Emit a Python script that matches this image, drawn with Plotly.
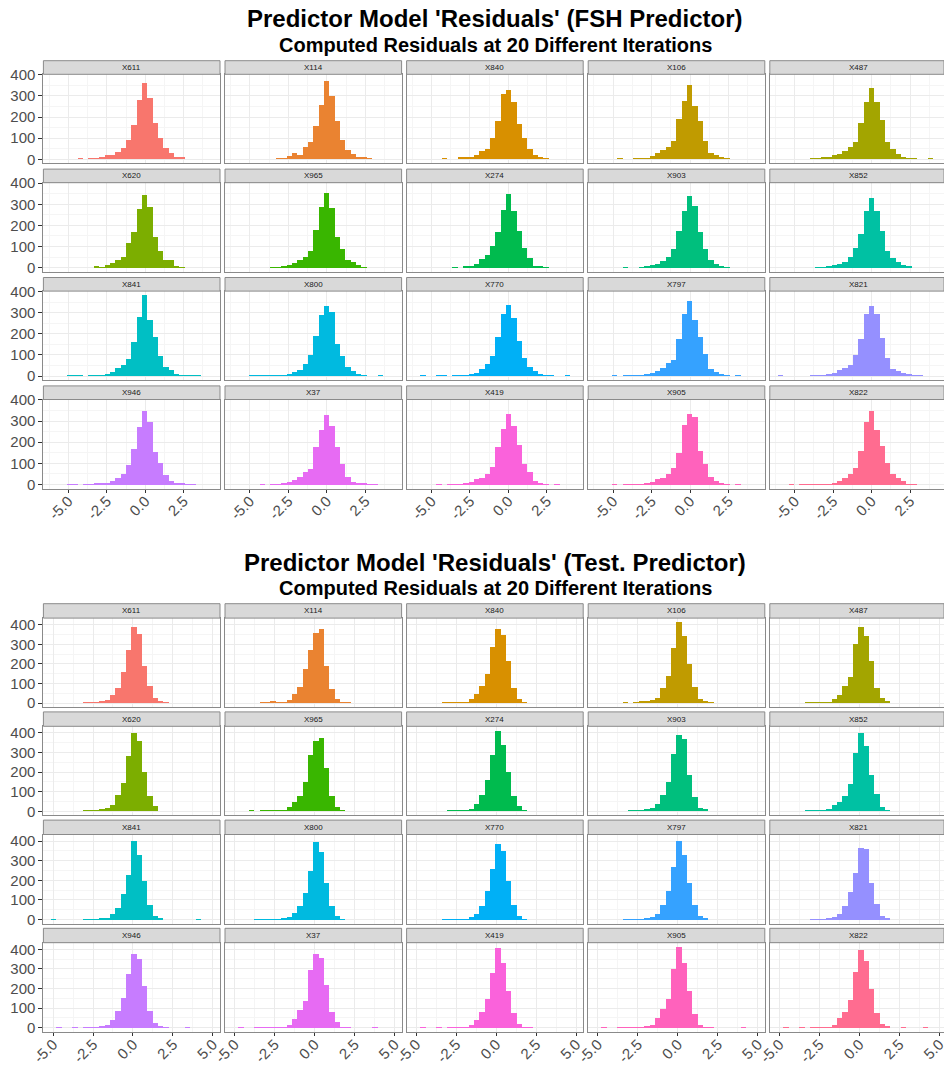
import plotly.graph_objects as go

W, H = 944, 1066
FONT = "Liberation Sans, Arial, Helvetica, sans-serif"

facets = ["X611", "X114", "X840", "X106", "X487",
          "X620", "X965", "X274", "X903", "X852",
          "X841", "X800", "X770", "X797", "X821",
          "X946", "X37", "X419", "X905", "X822"]

colours = ["#F8766D", "#EA8331", "#D89000", "#C09B00", "#A3A500",
           "#7CAE00", "#39B600", "#00BB4E", "#00BF7D", "#00C1A3",
           "#00BFC4", "#00BAE0", "#00B0F6", "#35A2FF", "#9590FF",
           "#C77CFF", "#E76BF3", "#FA62DB", "#FF62BC", "#FF6C90"]

# ---- FSH predictor: residual histogram counts, 30 bins per iteration ----
fsh_bin_first = -5.926
fsh_bin_width = 0.348

fsh_x611 = [0,0,0,0,0,2,0,1,3,6,19,20,33,50,88,160,278,359,287,169,99,50,28,11,5,0,0,0,0,0]
fsh_x114 = [0,0,0,0,0,0,0,0,3,4,16,27,20,56,78,157,257,370,298,180,88,44,24,9,6,3,0,0,0,0]
fsh_x840 = [0,0,0,0,0,2,0,0,5,9,11,20,38,47,99,179,307,325,270,165,100,45,20,11,3,0,0,0,0,0]
fsh_x106 = [0,0,0,0,2,0,0,2,3,4,13,27,41,58,85,191,276,348,251,179,85,30,19,9,3,0,0,0,0,0]
fsh_x487 = [0,0,0,0,0,0,2,3,5,9,19,25,39,58,78,171,270,336,270,184,82,47,24,9,2,1,0,0,1,0]
fsh_x620 = [0,0,0,0,0,0,0,0,8,3,13,25,38,52,116,170,279,347,287,146,82,39,38,6,2,0,0,0,0,0]
fsh_x965 = [0,0,0,0,0,0,0,2,2,6,14,22,38,52,82,180,287,353,284,146,88,39,27,14,2,0,0,0,0,0]
fsh_x274 = [0,0,0,0,0,0,0,2,0,5,9,20,42,61,104,169,273,351,268,177,94,45,11,8,2,0,0,0,0,0]
fsh_x903 = [0,0,0,0,0,2,0,0,3,9,13,20,31,52,91,174,271,342,292,169,91,38,19,11,2,0,0,0,0,0]
fsh_x852 = [0,0,0,0,0,0,0,2,3,8,13,19,28,52,96,162,271,331,271,177,80,45,28,13,6,0,0,0,0,0]
fsh_x841 = [0,0,0,2,3,2,0,2,4,3,8,17,38,50,82,163,278,383,267,185,93,41,28,9,3,2,2,1,0,0]
fsh_x800 = [0,0,0,1,2,2,1,3,2,4,10,19,28,55,97,187,287,333,301,149,96,44,25,9,3,0,0,1,0,0]
fsh_x770 = [0,1,0,0,1,1,0,3,4,3,10,16,31,58,93,185,293,337,273,166,86,44,24,6,4,3,0,0,1,0]
fsh_x797 = [0,0,0,1,0,1,2,2,3,5,16,25,36,60,74,173,295,356,264,185,104,31,19,9,4,0,1,0,0,0]
fsh_x821 = [1,0,0,0,0,0,2,3,4,5,13,27,38,52,99,173,295,330,293,180,86,31,22,14,5,2,1,0,0,0]
fsh_x946 = [0,0,0,1,1,0,1,2,5,6,9,21,32,51,95,170,272,351,296,155,104,48,21,10,7,2,1,0,0,0]
fsh_x37 = [0,0,0,0,0,2,0,3,3,8,15,25,40,63,75,180,260,330,280,180,100,38,14,8,8,2,1,0,0,0]
fsh_x419 = [0,0,0,0,1,0,1,3,3,5,16,27,32,52,87,178,264,335,280,190,101,60,21,10,3,0,1,0,0,0]
fsh_x905 = [0,0,0,1,0,1,2,2,4,5,12,27,32,51,81,150,286,338,322,161,98,37,21,9,4,0,1,0,0,0]
fsh_x822 = [0,0,1,0,1,1,1,2,2,3,9,21,35,51,79,163,299,349,260,184,106,51,35,17,4,2,0,0,0,0]

fsh_counts = [fsh_x611, fsh_x114, fsh_x840, fsh_x106, fsh_x487,
              fsh_x620, fsh_x965, fsh_x274, fsh_x903, fsh_x852,
              fsh_x841, fsh_x800, fsh_x770, fsh_x797, fsh_x821,
              fsh_x946, fsh_x37, fsh_x419, fsh_x905, fsh_x822]

# ---- Test. predictor: residual histogram counts, 30 bins per iteration ----
test_bin_first = -4.931
test_bin_width = 0.3345

test_x611 = [0,0,0,0,0,0,3,3,3,7,15,42,76,156,270,388,353,190,89,25,10,3,0,0,0,0,0,0,0,0]
test_x114 = [0,0,0,0,0,1,2,10,3,3,13,47,84,173,269,358,378,190,72,20,4,2,0,0,0,0,0,0,0,0]
test_x840 = [0,0,0,0,0,2,3,2,2,4,18,44,89,148,285,378,346,215,77,20,3,0,0,0,0,0,0,0,0,0]
test_x106 = [0,0,0,0,0,2,0,3,5,5,17,27,77,139,279,413,341,198,81,20,10,3,0,0,0,0,0,0,0,0]
test_x487 = [0,0,0,0,0,2,2,3,3,4,22,39,89,134,299,388,341,212,76,27,5,0,0,0,0,0,0,0,0,0]
test_x620 = [0,0,0,0,0,0,4,2,3,8,15,30,84,144,282,396,359,198,77,25,0,0,0,0,0,0,0,0,0,0]
test_x965 = [0,0,0,2,0,2,2,2,2,3,20,47,76,148,285,358,371,218,76,20,2,0,0,0,0,0,0,0,0,0]
test_x274 = [0,0,0,0,0,0,2,2,3,4,10,34,79,156,285,406,338,198,76,25,3,0,0,0,0,0,0,0,0,0]
test_x903 = [0,0,0,0,0,0,2,2,2,5,13,34,81,146,291,386,366,185,72,17,5,0,0,0,0,0,0,0,0,0]
test_x852 = [0,0,0,0,0,2,2,3,3,5,30,45,77,139,296,396,332,185,86,20,4,0,0,0,0,0,0,0,0,0]
test_x841 = [1,0,0,0,0,0,2,3,4,5,12,30,60,130,230,402,330,200,75,20,5,0,0,0,0,0,0,1,0,0]
test_x800 = [0,0,0,0,1,2,2,3,3,5,15,35,70,140,250,398,345,190,70,20,3,0,0,0,0,0,0,0,0,0]
test_x770 = [0,0,0,0,0,1,2,2,3,4,13,30,72,150,260,390,350,200,75,20,4,0,0,0,0,0,0,0,0,0]
test_x797 = [0,0,0,0,0,1,2,2,3,5,15,32,75,150,270,405,330,190,75,20,5,0,0,0,0,0,0,0,0,0]
test_x821 = [0,0,0,0,0,0,2,2,3,5,14,30,70,145,240,365,360,190,80,20,5,0,0,0,0,0,0,0,0,0]
test_x946 = [0,1,0,0,1,0,2,3,4,5,15,39,87,153,274,380,353,215,89,25,10,3,0,0,0,2,0,0,0,0]
test_x37 = [0,1,0,0,1,2,3,3,3,4,15,44,91,136,296,376,356,220,81,29,3,2,0,0,0,0,2,0,0,0]
test_x419 = [0,1,0,0,1,0,2,2,3,4,14,40,80,150,280,410,330,190,75,22,4,2,0,0,0,0,0,0,0,0]
test_x905 = [0,1,0,0,1,1,2,3,4,12,14,49,97,148,299,413,332,191,72,17,3,2,0,0,0,0,0,2,0,0]
test_x822 = [0,1,0,0,1,0,3,4,3,4,13,49,84,144,287,400,343,200,77,22,5,0,0,2,0,0,0,2,0,0]

test_counts = [test_x611, test_x114, test_x840, test_x106, test_x487,
               test_x620, test_x965, test_x274, test_x903, test_x852,
               test_x841, test_x800, test_x770, test_x797, test_x821,
               test_x946, test_x37, test_x419, test_x905, test_x822]

x_ticks = [-5.0, -2.5, 0.0, 2.5, 5.0]
y_ticks = [0, 100, 200, 300, 400]

# ---- page geometry (pixels) ----
COL_LEFT0, COL_STEP, PANEL_W = 43.4, 181.6, 176.6
PANEL_H = 89.0

blocks = [
    dict(title="Predictor Model 'Residuals' (FSH Predictor)",
         title_y=19, sub_y=45, strip_top=60.7, row_step=108.4, strip_h=13.6,
         counts=fsh_counts, first=fsh_bin_first, width=fsh_bin_width),
    dict(title="Predictor Model 'Residuals' (Test. Predictor)",
         title_y=562, sub_y=588, strip_top=603.7, row_step=108.2, strip_h=14.4,
         counts=test_counts, first=test_bin_first, width=test_bin_width),
]
subtitle = "Computed Residuals at 20 Different Iterations"

fig = go.Figure()
layout = dict(
    width=W, height=H, margin=dict(l=0, r=0, t=0, b=0, autoexpand=False),
    paper_bgcolor="white", plot_bgcolor="white",
    showlegend=False, bargap=0, barmode="overlay",
    font=dict(family=FONT, color="#4D4D4D"),
)
shapes, annotations = [], []

def px_x(v):
    return v / W

def px_y(v):
    return 1 - v / H

axis_n = 0
for b in blocks:
    first, bw = b["first"], b["width"]
    centers = [first + k * bw for k in range(30)]
    x_lo = first - 2 * bw
    x_hi = first + 31 * bw
    ymax = max(max(c) for c in b["counts"])
    y_range = [-0.05 * ymax, 1.05 * ymax]
    vis_ticks = [t for t in x_ticks if x_lo <= t <= x_hi]
    minor_x = [t - 1.25 for t in x_ticks + [7.5] if x_lo <= t - 1.25 <= x_hi]

    annotations.append(dict(
        text=b["title"], x=px_x(495), y=px_y(b["title_y"]), xref="paper", yref="paper",
        xanchor="center", yanchor="middle", showarrow=False,
        font=dict(family=FONT, size=24, color="black", weight="bold")))
    annotations.append(dict(
        text=subtitle, x=px_x(495), y=px_y(b["sub_y"]), xref="paper", yref="paper",
        xanchor="center", yanchor="middle", showarrow=False,
        font=dict(family=FONT, size=20, color="black", weight="bold")))

    for i, name in enumerate(facets):
        r, c = divmod(i, 5)
        axis_n += 1
        xa = "x" if axis_n == 1 else f"x{axis_n}"
        ya = "y" if axis_n == 1 else f"y{axis_n}"
        left = COL_LEFT0 + c * COL_STEP
        right = min(left + PANEL_W, W)
        s_top = b["strip_top"] + r * b["row_step"]
        p_top = s_top + b["strip_h"]
        p_bot = p_top + PANEL_H
        # the rightmost column runs off the page: keep the same x scale
        hi = x_lo + (x_hi - x_lo) * (right - left) / PANEL_W

        fig.add_trace(go.Bar(
            x=centers, y=b["counts"][i], width=bw,
            marker=dict(color=colours[i], line=dict(width=0)),
            xaxis=xa, yaxis=ya, hoverinfo="skip"))

        last_row = r == 3
        first_col = c == 0
        layout["xaxis" if axis_n == 1 else f"xaxis{axis_n}"] = dict(
            domain=[px_x(left), px_x(right)], anchor=ya, range=[x_lo, hi],
            automargin=False, ticklabeloverflow="allow", ticklabelstandoff=-6,
            tickmode="array", tickvals=vis_ticks,
            ticktext=[f"{t:.1f}" for t in vis_ticks],
            showticklabels=last_row, ticks="outside" if last_row else "",
            ticklen=3, tickcolor="#333333", tickwidth=1, tickangle=-45,
            tickfont=dict(family=FONT, size=15, color="#4D4D4D"),
            showgrid=True, gridcolor="#EBEBEB", gridwidth=1,
            minor=dict(tickmode="array", tickvals=minor_x, showgrid=True,
                       gridcolor="#F5F5F5", gridwidth=1, ticks=""),
            showline=True, mirror=True, linecolor="#8A8A8A", linewidth=1,
            zeroline=False, fixedrange=True)
        layout["yaxis" if axis_n == 1 else f"yaxis{axis_n}"] = dict(
            domain=[px_y(p_bot), px_y(p_top)], anchor=xa, range=y_range,
            automargin=False,
            tickmode="array", tickvals=y_ticks, ticktext=[str(t) for t in y_ticks],
            showticklabels=first_col, ticks="outside" if first_col else "",
            ticklen=4, tickcolor="#333333", tickwidth=1,
            tickfont=dict(family=FONT, size=15, color="#4D4D4D"),
            showgrid=True, gridcolor="#EBEBEB", gridwidth=1,
            minor=dict(tickmode="array", tickvals=[50, 150, 250, 350], showgrid=True,
                       gridcolor="#F5F5F5", gridwidth=1, ticks=""),
            showline=True, mirror=True, linecolor="#8A8A8A", linewidth=1,
            zeroline=False, fixedrange=True)

        # facet strip
        shapes.append(dict(
            type="rect", xref="paper", yref="paper",
            x0=px_x(left), x1=px_x(right), y0=px_y(p_top), y1=px_y(s_top),
            fillcolor="#D9D9D9", line=dict(color="#8A8A8A", width=1), layer="above"))
        annotations.append(dict(
            text=name, x=px_x(left + PANEL_W / 2), y=px_y((s_top + p_top) / 2),
            xref="paper", yref="paper", xanchor="center", yanchor="middle",
            showarrow=False, font=dict(family=FONT, size=8, color="#1A1A1A")))

layout["shapes"] = shapes
layout["annotations"] = annotations
fig.update_layout(**layout)
fig.write_html("out.html")
